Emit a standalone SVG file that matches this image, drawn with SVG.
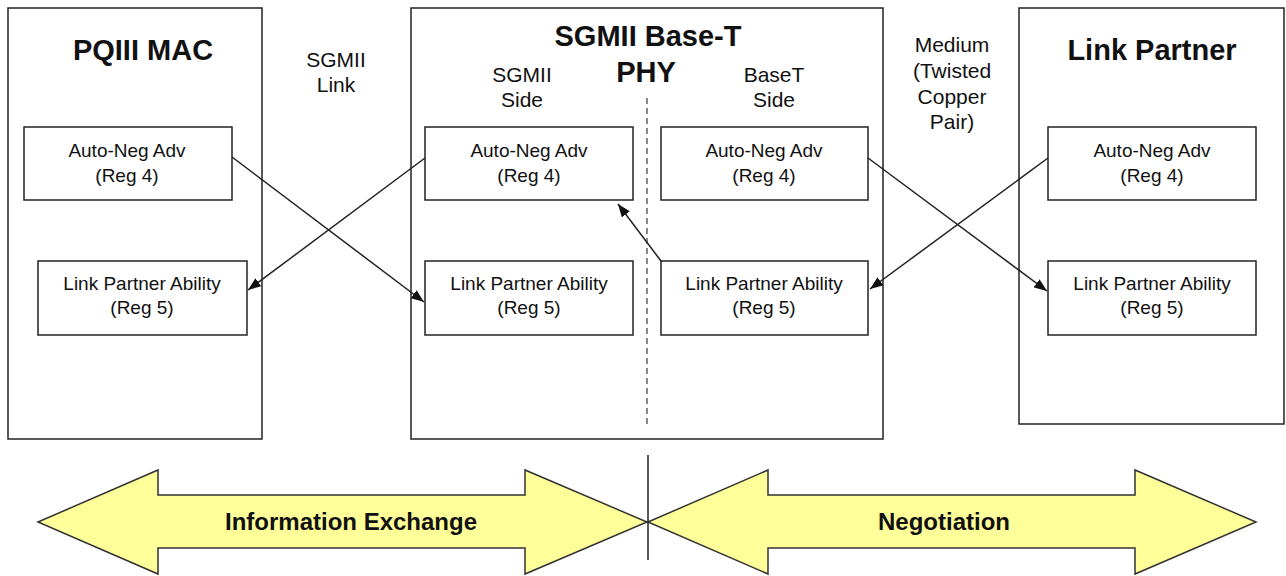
<svg xmlns="http://www.w3.org/2000/svg" width="1286" height="576" viewBox="0 0 1286 576">
<style>
.box{fill:#fff;stroke:#222;stroke-width:1.5}
.t{font-family:"Liberation Sans",Arial,sans-serif;fill:#111;text-anchor:middle}
.title{font-size:29px;font-weight:bold}
.lbl{font-size:21px}
.in{font-size:19px}
.big{fill:#ffff99;stroke:#333;stroke-width:1.5;stroke-linejoin:miter}
.bt{font-size:24px;font-weight:bold}
.con{stroke:#222;stroke-width:1.5;fill:none;marker-end:url(#ah)}
</style>
<defs>
<marker id="ah" markerUnits="userSpaceOnUse" markerWidth="14" markerHeight="10" refX="13" refY="5" orient="auto" viewBox="0 0 14 10">
<path d="M0,0 L13,5 L0,10 z" fill="#111"/>
</marker>
</defs>
<rect width="1286" height="576" fill="#fff"/>

<g id="mac">
<rect class="box" x="8" y="8" width="254" height="431"/>
<text class="t title" x="143" y="60">PQIII MAC</text>
</g>
<g id="mac-adv">
<rect class="box" x="24" y="127" width="208" height="73"/>
<text class="t in" x="127" y="157">Auto-Neg Adv</text>
<text class="t in" x="127" y="182">(Reg 4)</text>
</g>
<g id="mac-lpa">
<rect class="box" x="38" y="261" width="209" height="74"/>
<text class="t in" x="142" y="290">Link Partner Ability</text>
<text class="t in" x="142" y="314">(Reg 5)</text>
</g>

<g id="sgmii-link">
<text class="t lbl" x="336" y="67">SGMII</text>
<text class="t lbl" x="336" y="92">Link</text>
</g>

<g id="phy">
<rect class="box" x="411" y="8" width="472" height="431"/>
<text class="t title" x="648" y="46">SGMII Base-T</text>
<text class="t title" x="646" y="82">PHY</text>
<text class="t lbl" x="522" y="82">SGMII</text>
<text class="t lbl" x="522" y="107">Side</text>
<text class="t lbl" x="774" y="82">BaseT</text>
<text class="t lbl" x="774" y="107">Side</text>
<line x1="647" y1="98" x2="647" y2="425" stroke="#888" stroke-width="2" stroke-dasharray="6 4"/>
</g>
<g id="phy-sgmii-adv">
<rect class="box" x="425" y="127" width="208" height="73"/>
<text class="t in" x="529" y="157">Auto-Neg Adv</text>
<text class="t in" x="529" y="182">(Reg 4)</text>
</g>
<g id="phy-sgmii-lpa">
<rect class="box" x="425" y="261" width="208" height="74"/>
<text class="t in" x="529" y="290">Link Partner Ability</text>
<text class="t in" x="529" y="314">(Reg 5)</text>
</g>
<g id="phy-baset-adv">
<rect class="box" x="661" y="127" width="207" height="73"/>
<text class="t in" x="764" y="157">Auto-Neg Adv</text>
<text class="t in" x="764" y="182">(Reg 4)</text>
</g>
<g id="phy-baset-lpa">
<rect class="box" x="661" y="261" width="207" height="74"/>
<text class="t in" x="764" y="290">Link Partner Ability</text>
<text class="t in" x="764" y="314">(Reg 5)</text>
</g>

<g id="medium">
<text class="t lbl" x="952" y="52">Medium</text>
<text class="t lbl" x="952" y="78">(Twisted</text>
<text class="t lbl" x="952" y="104">Copper</text>
<text class="t lbl" x="952" y="129">Pair)</text>
</g>

<g id="lp">
<rect class="box" x="1019" y="8" width="265" height="416"/>
<text class="t title" x="1152" y="60">Link Partner</text>
</g>
<g id="lp-adv">
<rect class="box" x="1048" y="127" width="208" height="73"/>
<text class="t in" x="1152" y="157">Auto-Neg Adv</text>
<text class="t in" x="1152" y="182">(Reg 4)</text>
</g>
<g id="lp-lpa">
<rect class="box" x="1048" y="261" width="208" height="74"/>
<text class="t in" x="1152" y="290">Link Partner Ability</text>
<text class="t in" x="1152" y="314">(Reg 5)</text>
</g>

<g id="connectors">
<line class="con" x1="232" y1="157" x2="424" y2="302"/>
<line class="con" x1="425" y1="158" x2="248" y2="290"/>
<line class="con" x1="868" y1="158" x2="1047" y2="291"/>
<line class="con" x1="1048" y1="158" x2="870" y2="289"/>
<line class="con" x1="661" y1="261" x2="618" y2="204"/>
</g>

<g id="info-exchange">
<path class="big" d="M38,522 L158,470 L158,495 L525,495 L525,470 L647,522 L525,574 L525,548 L158,548 L158,574 Z"/>
<text class="t bt" x="351" y="530">Information Exchange</text>
</g>
<g id="negotiation">
<path class="big" d="M648,522 L768,470 L768,495 L1135,495 L1135,470 L1256,522 L1135,574 L1135,548 L768,548 L768,574 Z"/>
<text class="t bt" x="944" y="530">Negotiation</text>
</g>
<line x1="648" y1="455" x2="648" y2="560" stroke="#222" stroke-width="1.5"/>
</svg>
